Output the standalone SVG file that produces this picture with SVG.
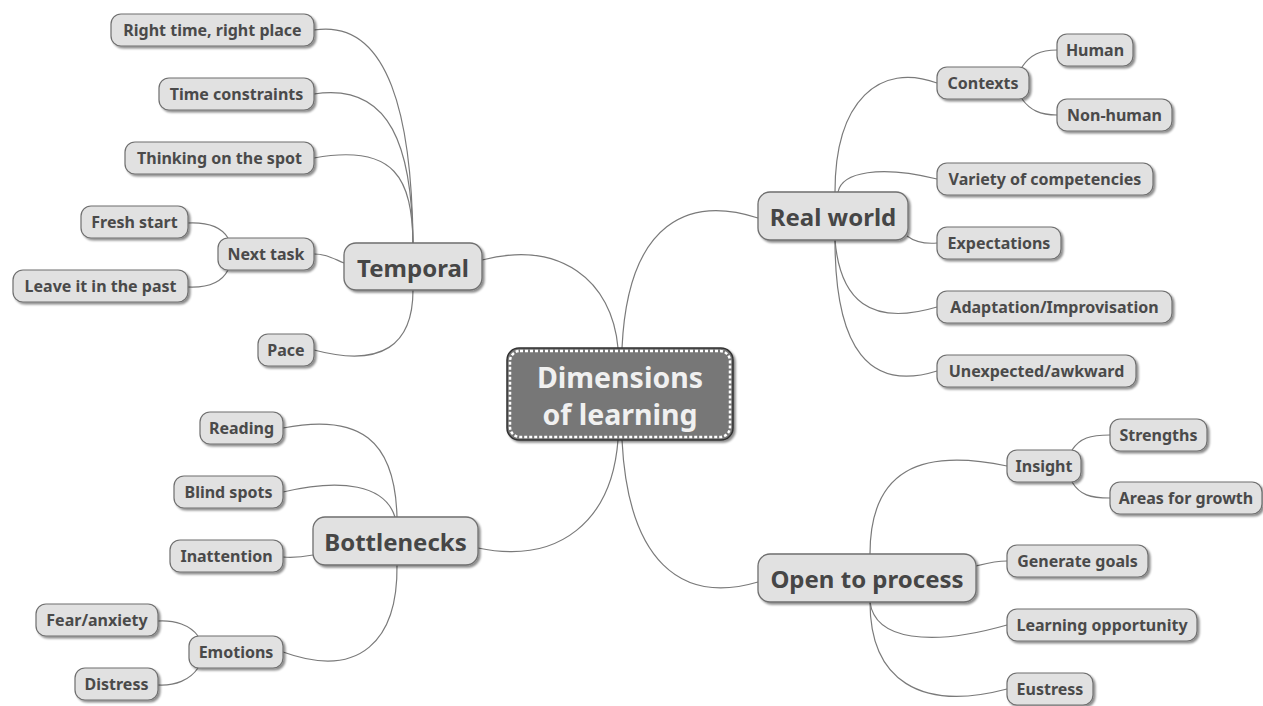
<svg xmlns="http://www.w3.org/2000/svg" width="1263" height="706" viewBox="0 0 1263 706">
<defs>
<filter id="sh" x="-20%" y="-30%" width="140%" height="170%">
<feDropShadow dx="2" dy="2" stdDeviation="1.3" flood-color="#000" flood-opacity="0.45"/>
</filter>
<style>
.leaf rect{fill:#e1e1e1;stroke:#6f6f6f;stroke-width:1.2;filter:url(#sh)}
.leaf text{font-family:"Noto Sans","Open Sans",sans-serif;font-weight:bold;font-size:16px;fill:#4a4a4a;text-anchor:middle;dominant-baseline:central}
.main rect{fill:#e1e1e1;stroke:#6f6f6f;stroke-width:1.3;filter:url(#sh)}
.main text{font-family:"Noto Sans","Open Sans",sans-serif;font-weight:bold;font-size:24px;fill:#464646;text-anchor:middle;dominant-baseline:central}
.conn path{fill:none;stroke:#7a7a7a;stroke-width:1.2}
.center text{font-family:"Noto Sans","Open Sans",sans-serif;font-weight:bold;font-size:28.5px;fill:#f0f0f0;text-anchor:middle}
</style>
</defs>
<rect width="1263" height="706" fill="#fff"/>
<g class="conn" id="connectors">
<path d="M482 260 C560 240 612 280 618 348"/>
<path d="M622 348 C628 220 690 196 758 218"/>
<path d="M618 440 C612 520 560 565 478 548"/>
<path d="M622 440 C628 560 680 605 758 582"/>
<path d="M413 243 C412 120 390 18 314 30"/>
<path d="M413 243 C412 150 392 82 314 94"/>
<path d="M413 243 C412 180 396 143 314 158"/>
<path d="M344 263 C332 258 326 254 314 254"/>
<path d="M413 290 C413 345 382 368 314 350"/>
<path d="M228 238 C222 228 210 222 188 223"/>
<path d="M228 270 C222 282 210 288 188 287"/>
<path d="M835 192 C835 100 880 62 937 83"/>
<path d="M838 192 C842 172 880 165 937 179"/>
<path d="M907 236 C915 242 925 244 937 243"/>
<path d="M835 240 C840 300 870 327 937 307"/>
<path d="M835 240 C835 350 870 392 937 371"/>
<path d="M1022 67 C1030 55 1040 50 1057 50"/>
<path d="M1022 99 C1030 110 1040 115 1057 115"/>
<path d="M397 517 C395 440 360 413 283 428"/>
<path d="M395 517 C385 485 342 478 283 492"/>
<path d="M313 555 C302 557 295 558 283 557"/>
<path d="M397 565 C398 640 360 680 283 652"/>
<path d="M198 636 C190 625 175 620 158 621"/>
<path d="M198 668 C190 680 175 686 158 685"/>
<path d="M870 554 C870 470 920 448 1007 466"/>
<path d="M976 566 C988 563 995 561 1007 561"/>
<path d="M870 602 C875 640 930 647 1007 625"/>
<path d="M870 602 C870 680 920 712 1007 689"/>
<path d="M1072 450 C1080 438 1090 435 1110 435"/>
<path d="M1072 482 C1080 495 1090 498 1110 498"/>
</g>
<g id="center" class="center">
<rect x="507" y="348" width="226" height="92" rx="12" fill="#777" stroke="#333" stroke-width="1.5" filter="url(#sh)"/>
<rect x="510" y="351" width="220" height="86" rx="10" fill="none" stroke="#fff" stroke-width="2.5" stroke-dasharray="3 2"/>
<text x="620" y="388">Dimensions</text>
<text x="620" y="425">of learning</text>
</g>
<g id="temporal" class="main"><rect x="344" y="243" width="138" height="47" rx="12"/><text x="413" y="267">Temporal</text></g>
<g id="realworld" class="main"><rect x="758" y="192" width="150" height="48" rx="12"/><text x="833" y="216">Real world</text></g>
<g id="bottlenecks" class="main"><rect x="313" y="517" width="165" height="48" rx="12"/><text x="395.5" y="541">Bottlenecks</text></g>
<g id="opentoprocess" class="main"><rect x="758" y="554" width="218" height="48" rx="12"/><text x="867" y="578">Open to process</text></g>
<g id="n1" class="leaf"><rect x="111" y="14" width="203" height="32" rx="10"/><text x="212.5" y="30">Right time, right place</text></g>
<g id="n2" class="leaf"><rect x="159" y="78" width="155" height="32" rx="10"/><text x="236.5" y="94">Time constraints</text></g>
<g id="n3" class="leaf"><rect x="125" y="142" width="189" height="32" rx="10"/><text x="219.5" y="158">Thinking on the spot</text></g>
<g id="n4" class="leaf"><rect x="81" y="206" width="107" height="32" rx="10"/><text x="134.5" y="222">Fresh start</text></g>
<g id="n5" class="leaf"><rect x="218" y="238" width="96" height="32" rx="10"/><text x="266" y="254">Next task</text></g>
<g id="n6" class="leaf"><rect x="13" y="270" width="175" height="32" rx="10"/><text x="100.5" y="286">Leave it in the past</text></g>
<g id="n7" class="leaf"><rect x="258" y="334" width="56" height="32" rx="10"/><text x="286" y="350">Pace</text></g>
<g id="n8" class="leaf"><rect x="200" y="412" width="83" height="32" rx="10"/><text x="241.5" y="428">Reading</text></g>
<g id="n9" class="leaf"><rect x="174" y="476" width="109" height="32" rx="10"/><text x="228.5" y="492">Blind spots</text></g>
<g id="n10" class="leaf"><rect x="170" y="540" width="113" height="32" rx="10"/><text x="226.5" y="556">Inattention</text></g>
<g id="n11" class="leaf"><rect x="36" y="604" width="122" height="32" rx="10"/><text x="97" y="620">Fear/anxiety</text></g>
<g id="n12" class="leaf"><rect x="189" y="636" width="94" height="32" rx="10"/><text x="236" y="652">Emotions</text></g>
<g id="n13" class="leaf"><rect x="75" y="668" width="83" height="32" rx="10"/><text x="116.5" y="684">Distress</text></g>
<g id="n14" class="leaf"><rect x="937" y="67" width="92" height="32" rx="10"/><text x="983" y="83">Contexts</text></g>
<g id="n15" class="leaf"><rect x="1057" y="34" width="76" height="32" rx="10"/><text x="1095" y="50">Human</text></g>
<g id="n16" class="leaf"><rect x="1057" y="99" width="115" height="32" rx="10"/><text x="1114.5" y="115">Non-human</text></g>
<g id="n17" class="leaf"><rect x="937" y="163" width="216" height="32" rx="10"/><text x="1045" y="179">Variety of competencies</text></g>
<g id="n18" class="leaf"><rect x="937" y="227" width="124" height="32" rx="10"/><text x="999" y="243">Expectations</text></g>
<g id="n19" class="leaf"><rect x="937" y="291" width="235" height="32" rx="10"/><text x="1054.5" y="307">Adaptation/Improvisation</text></g>
<g id="n20" class="leaf"><rect x="937" y="355" width="199" height="32" rx="10"/><text x="1036.5" y="371">Unexpected/awkward</text></g>
<g id="n21" class="leaf"><rect x="1007" y="450" width="74" height="32" rx="10"/><text x="1044" y="466">Insight</text></g>
<g id="n22" class="leaf"><rect x="1110" y="419" width="97" height="32" rx="10"/><text x="1158.5" y="435">Strengths</text></g>
<g id="n23" class="leaf"><rect x="1110" y="482" width="152" height="32" rx="10"/><text x="1186" y="498">Areas for growth</text></g>
<g id="n24" class="leaf"><rect x="1007" y="545" width="141" height="32" rx="10"/><text x="1077.5" y="561">Generate goals</text></g>
<g id="n25" class="leaf"><rect x="1007" y="609" width="190" height="32" rx="10"/><text x="1102" y="625">Learning opportunity</text></g>
<g id="n26" class="leaf"><rect x="1007" y="673" width="86" height="32" rx="10"/><text x="1050" y="689">Eustress</text></g>
</svg>
